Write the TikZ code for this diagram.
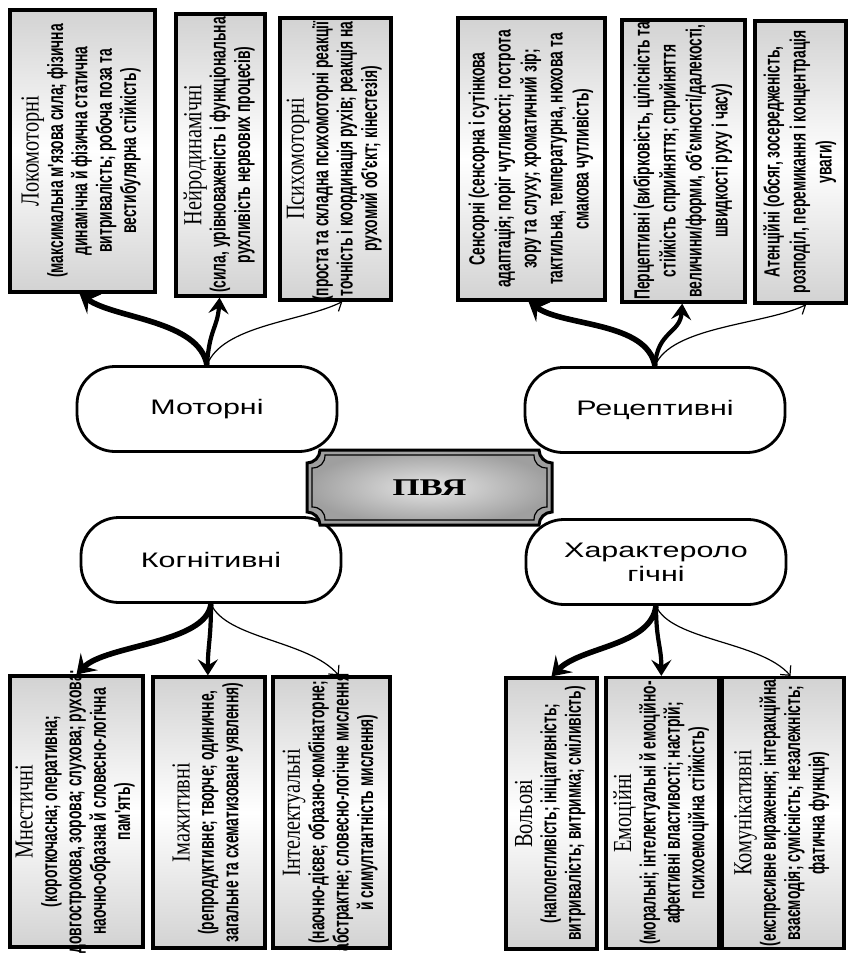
\documentclass[tikz,border=0pt]{standalone}
\usepackage{fontspec}
\setmainfont{Liberation Serif}
\newfontfamily\ttlfont[FakeStretch=0.78]{Liberation Serif}
\newfontfamily\detfont[FakeStretch=0.63]{Liberation Sans}
\newfontfamily\ovalfont[FakeStretch=1.45]{Liberation Sans}
\newfontfamily\hubfont[FakeStretch=1.45]{Liberation Serif}
\usepackage{graphicx}
\usepackage{array}
\usetikzlibrary{arrows.meta, calc}

% vertical box texts: title + details, or details only
\newcommand{\boxtxt}[2]{\rotatebox{90}{\makebox[0pt]{\fontsize{11}{12.2}\selectfont
  \begin{tabular}{@{}>{\detfont\bfseries}c@{}}
    {\ttlfont\mdseries\fontsize{13}{15}\selectfont #1}\\ #2
  \end{tabular}}}}
\newcommand{\boxtxtsf}[1]{\rotatebox{90}{\makebox[0pt]{\fontsize{11}{13}\selectfont
  \begin{tabular}{@{}>{\detfont\bfseries}c@{}} #1 \end{tabular}}}}

\begin{document}
\begin{tikzpicture}[x=0.5pt, y=-0.5pt,
  vbox/.style    = {draw, line width=1.6pt, top color=gray!35, bottom color=gray!35,
                    middle color=white, inner sep=0pt},
  topbox/.style  = {vbox, minimum height=141pt},
  botbox/.style  = {vbox, minimum height=135.5pt},
  oval/.style    = {draw, line width=1.4pt, fill=white, rounded corners=19pt,
                    minimum width=130pt, minimum height=42.5pt, align=center,
                    font=\fontsize{10.5}{12}\ovalfont},
  plaque/.style  = {draw, line width=1.5pt, inner color=gray!20, outer color=gray!75},
  hub/.style     = {font=\fontsize{12}{14}\hubfont\bfseries},
  fatarr/.style  = {line width=2.8pt, -{Stealth[length=9pt, width=12pt, inset=3.5pt]}},
  midarr/.style  = {line width=2.1pt, -{Stealth[length=8pt, width=10pt, inset=3pt]}},
  thinarr/.style = {line width=0.6pt, -{Straight Barb[length=3.5pt, width=7pt]}},
]

\useasboundingbox (0,0) rectangle (849,957);
\fill[white] (0,0) rectangle (849,957);

% top row
\node[topbox, minimum width=72.5pt] (loco) at (82.5,151) {\boxtxt{Локомоторні}{(максимальна м'язова сила; фізична\\динамічна й фізична статична\\витривалість; робоча поза та\\вестибулярна стійкість)}};
\node[topbox, minimum width=44.5pt] (neuro) at (220.5,155) {\boxtxt{Нейродинамічні}{(сила, урівноваженість і функціональна\\рухливість нервових процесів)}};
\node[topbox, minimum width=55.5pt] (psycho) at (335.5,159) {\boxtxt{Психомоторні}{(проста та складна психомоторні реакції;\\точність і координація рухів; реакція на\\рухомий об'єкт; кінестезія)}};
\node[topbox, minimum width=73.5pt] (sens) at (531.5,159) {\boxtxtsf{Сенсорні (сенсорна і сутінкова\\адаптація; поріг чутливості; гострота\\зору та слуху; хроматичний зір;\\тактильна, температурна, нюхова та\\смакова чутливість)}};
\node[topbox, minimum width=61.5pt] (percep) at (683.5,161) {\boxtxtsf{Перцептивні (вибірковість, цілісність та\\стійкість сприйняття; сприйняття\\величини/форми, об'ємності/далекості,\\швидкості руху і часу)}};
\node[topbox, minimum width=45.5pt] (atten) at (800.5,162) {\boxtxtsf{Атенційні (обсяг, зосередженість,\\розподіл, перемикання і концентрація\\уваги)}};

% bottom row
\node[botbox, minimum width=66.5pt] (mnest) at (76.5,811.5) {\boxtxt{Мнестичні}{(короткочасна; оперативна;\\довгострокова, зорова; слухова; рухова;\\наочно-образна й словесно-логічна\\пам'ять)}};
\node[botbox, minimum width=56pt] (imag) at (209,812.5) {\boxtxt{Імажитивні}{(репродуктивне; творче; одиничне,\\загальне та схематизоване уявлення)}};
\node[botbox, minimum width=58.5pt] (intel) at (331.5,812.5) {\boxtxt{Інтелектуальні}{(наочно-дієве; образно-комбінаторне;\\абстрактне; словесно-логічне мислення\\й симултантність мислення)}};
\node[botbox, minimum width=45.5pt] (vol) at (551.5,813.5) {\boxtxt{Вольові}{(наполегливість; ініціативність;\\витривалість; витримка; сміливість)}};
\node[botbox, minimum width=56.5pt] (emo) at (662.5,813) {\boxtxt{Емоційні}{(моральні; інтелектуальні й емоційно-\\афективні властивості; настрій;\\психоемоційна стійкість)}};
\node[botbox, minimum width=61pt] (comm) at (783,813) {\boxtxt{Комунікативні}{(експресивне вираження; інтеракційна\\взаємодія; сумісність; незалежність;\\фатична функція)}};

% groups
\node[oval] (moto)  at (207,409) {Моторні};
\node[oval] (recep) at (655,410) {Рецептивні};
\node[oval] (cogn)  at (211,560) {Когнітивні};
\node[oval] (chara) at (656,562) {Характероло\\гічні};

\foreach \src/\a/\b/\c in {moto/loco/neuro/psycho, recep/sens/percep/atten}{
  \draw[fatarr]  (\src.north) .. controls +(-8,-45) and +(35,25) .. ($(\a.south west)!0.48!(\a.south east)$);
  \draw[midarr]  (\src.north) .. controls +(2,-35) and +(-2,30) .. ($(\b.south west)!0.49!(\b.south east)$);
  \draw[thinarr] (\src.north) .. controls +(15,-40) and +(-40,20) .. ($(\c.south west)!0.56!(\c.south east)$);
}
\foreach \src/\a/\b/\c in {cogn/mnest/imag/intel, chara/vol/emo/comm}{
  \draw[fatarr]  (\src.south) .. controls +(-5,40) and +(30,-30) .. ($(\a.north west)!0.5!(\a.north east)$);
  \draw[midarr]  (\src.south) .. controls +(0,35) and +(0,-30) .. ($(\b.north west)!0.49!(\b.north east)$);
  \draw[thinarr] (\src.south) .. controls +(15,35) and +(-30,-35) .. ($(\c.north west)!0.56!(\c.north east)$);
}

% centre plaque
\shadedraw[plaque] (320,450) -- (539,450) .. controls (539,457) and (545,463) .. (552,463)
  -- (552,512) .. controls (545,512) and (539,518) .. (539,525)
  -- (320,525) .. controls (320,518) and (314,512) .. (307,512)
  -- (307,463) .. controls (314,463) and (320,457) .. (320,450) -- cycle;
\draw[line width=0.6pt] (325,455) -- (534,455) .. controls (534,463) and (539,468) .. (547,468)
  -- (547,507) .. controls (539,507) and (534,512) .. (534,520)
  -- (325,520) .. controls (325,512) and (320,507) .. (312,507)
  -- (312,468) .. controls (320,468) and (325,463) .. (325,455) -- cycle;
\node[hub] (pvya) at (429.5,487.5) {ПВЯ};

\end{tikzpicture}
\end{document}
